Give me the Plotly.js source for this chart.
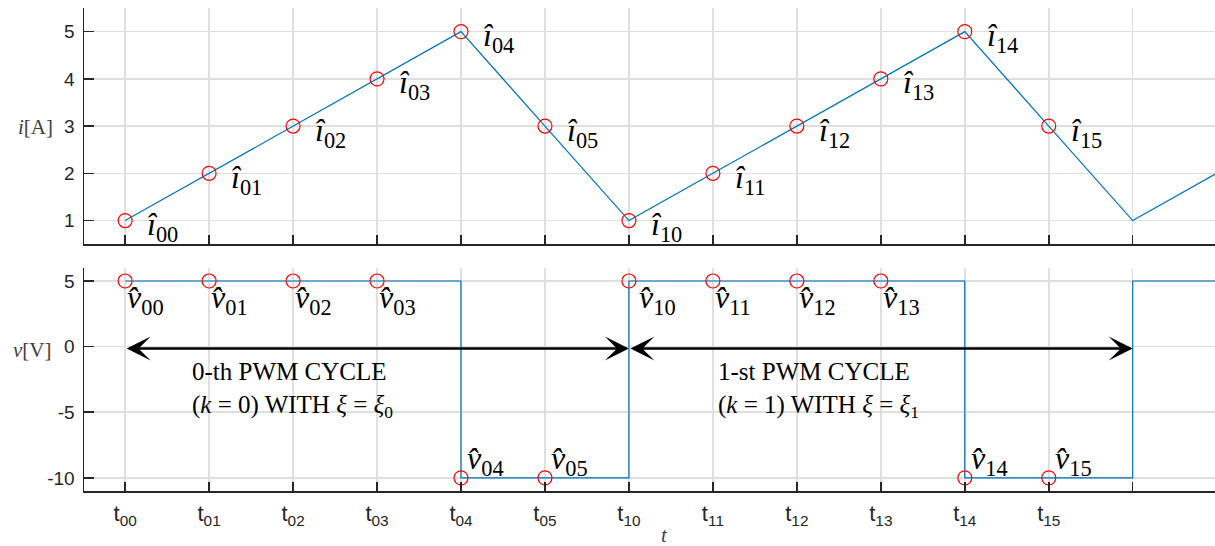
<!DOCTYPE html>
<html>
<head>
<meta charset="utf-8">
<script src="https://cdn.plot.ly/plotly-3.0.1.min.js"></script>
<style>
  html, body { margin: 0; padding: 0; background: #ffffff; }
  #chart { width: 1215px; height: 546px; }
</style>
</head>
<body>
<div id="chart"></div>
<script>
// Instants t_kn: two PWM cycles of six samples each, plus the start of the next cycle
const sampleNames = ['00', '01', '02', '03', '04', '05', '10', '11', '12', '13', '14', '15'];
const tickPositions = [0, 1, 2, 3, 4, 5, 6, 7, 8, 9, 10, 11, 12];
const tickLabels = ['t<sub>00</sub>', 't<sub>01</sub>', 't<sub>02</sub>', 't<sub>03</sub>',
                    't<sub>04</sub>', 't<sub>05</sub>', 't<sub>10</sub>', 't<sub>11</sub>',
                    't<sub>12</sub>', 't<sub>13</sub>', 't<sub>14</sub>', 't<sub>15</sub>', ''];
const currentTicks = [1, 2, 3, 4, 5];
const voltageTicks = [-10, -5, 0, 5];
const voltageTickLabels = ['-10', '-5', '0', '5'];

// Waveforms over the whole time span
const timeAxis = [0, 1, 2, 3, 4, 5, 6, 7, 8, 9, 10, 11, 12, 13];
const current = [1, 2, 3, 4, 5, 3, 1, 2, 3, 4, 5, 3, 1, 2];       // i [A]
const voltage = [5, 5, 5, 5, -10, -10, 5, 5, 5, 5, -10, -10, 5, 5]; // v [V]

// Sampled values (one per named instant)
const sampleTimes = timeAxis.slice(0, sampleNames.length);
const currentSamples = current.slice(0, sampleNames.length);
const voltageSamples = voltage.slice(0, sampleNames.length);

// PWM cycle spans
const cycleStart = [0, 6];
const cycleEnd = [6, 12];
const cycleTitles = ['0-th PWM CYCLE', '1-st PWM CYCLE'];
const cycleIndex = ['0', '1'];

const lineBlue = '#0072BD';
const axisInk = '#262626';
const gridGrey = '#dfdfdf';
const mathFont = 'Liberation Serif, Times New Roman, serif';
const sansFont = 'Liberation Sans, Arial, sans-serif';

const traces = [
  {x: timeAxis, y: current, mode: 'lines', xaxis: 'x', yaxis: 'y',
   line: {color: lineBlue, width: 1.2}, hoverinfo: 'skip'},
  {x: sampleTimes, y: currentSamples, mode: 'markers', xaxis: 'x', yaxis: 'y',
   marker: {symbol: 'circle-open', size: 14, color: '#ff0000', line: {width: 1.2, color: '#ff0000'}}},
  {x: timeAxis, y: voltage, mode: 'lines', xaxis: 'x2', yaxis: 'y2',
   line: {color: lineBlue, width: 1.2, shape: 'hv'}, hoverinfo: 'skip'},
  {x: sampleTimes, y: voltageSamples, mode: 'markers', xaxis: 'x2', yaxis: 'y2',
   marker: {symbol: 'circle-open', size: 14, color: '#ff0000', line: {width: 1.2, color: '#ff0000'}}}
];

const annotations = [];

// î labels, to the lower right of each current sample
sampleNames.forEach((name, k) => {
  annotations.push({
    xref: 'x', yref: 'y', x: sampleTimes[k], y: currentSamples[k],
    text: '<i>î</i><sub>' + name + '</sub>', showarrow: false,
    xanchor: 'left', yanchor: 'middle', xshift: 20, yshift: -6,
    font: {family: mathFont, size: 32, color: '#000000'}
  });
});

// v̂ labels: below the high level, above the low level
sampleNames.forEach((name, k) => {
  const high = voltageSamples[k] > 0;
  annotations.push({
    xref: 'x2', yref: 'y2', x: sampleTimes[k], y: voltageSamples[k],
    text: '<i>v̂</i><sub>' + name + '</sub>', showarrow: false,
    xanchor: 'left', yanchor: 'middle',
    xshift: high ? (k === 6 ? 8 : 0) : 4, yshift: high ? -19 : 17,
    font: {family: mathFont, size: 32, color: '#000000'}
  });
});

// Double-headed arrows spanning each PWM cycle, with their captions
const captionX = [0.77, 7.04];
cycleStart.forEach((s, c) => {
  annotations.push({
    xref: 'x2', yref: 'y2', axref: 'x2', ayref: 'y2',
    x: cycleEnd[c], y: -0.15, ax: s, ay: -0.15, text: '',
    showarrow: true, arrowside: 'end+start', arrowhead: 3, startarrowhead: 3,
    arrowsize: 1.6, startarrowsize: 1.6, arrowwidth: 2.5, arrowcolor: '#000000',
    standoff: 0, startstandoff: 0
  });
  annotations.push({
    xref: 'x2', yref: 'y2', x: captionX[c], y: -3.3,
    text: cycleTitles[c] + '<br>(<i>k</i> = ' + cycleIndex[c] + ') WITH <i>ξ</i> = <i>ξ</i><sub>' + cycleIndex[c] + '</sub>',
    showarrow: false, xanchor: 'left', yanchor: 'middle', align: 'left',
    font: {family: mathFont, size: 25, color: '#000000'}
  });
});

// Axis names
annotations.push(
  {xref: 'paper', yref: 'paper', x: -0.0433, y: 0.7536, text: '<i>i</i>[A]', showarrow: false,
   xanchor: 'center', yanchor: 'middle', font: {family: mathFont, size: 21, color: '#404040'}},
  {xref: 'paper', yref: 'paper', x: -0.046, y: 0.292, text: '<i>v</i>[V]', showarrow: false,
   xanchor: 'center', yanchor: 'middle', font: {family: mathFont, size: 21, color: '#404040'}},
  {xref: 'paper', yref: 'paper', x: 0.5137, y: -0.092, text: '<i>t</i>', showarrow: false,
   xanchor: 'center', yanchor: 'middle', font: {family: mathFont, size: 21, color: '#404040'}}
);

const axisCommon = {
  showline: true, linecolor: axisInk, linewidth: 1.5,
  ticks: 'inside', tickcolor: axisInk, tickwidth: 1.5,
  showgrid: true, gridcolor: gridGrey, gridwidth: 1.5,
  zeroline: false, fixedrange: true,
  tickfont: {family: sansFont, size: 19, color: axisInk}
};

const layout = {
  width: 1215, height: 546,
  margin: {l: 84, r: 0, t: 8, b: 55},
  paper_bgcolor: '#ffffff', plot_bgcolor: '#ffffff',
  showlegend: false,
  xaxis: Object.assign({}, axisCommon, {
    domain: [0, 1], anchor: 'y', range: [-0.49, 12.98],
    tickmode: 'array', tickvals: tickPositions, showticklabels: false, ticklen: 9
  }),
  yaxis: Object.assign({}, axisCommon, {
    domain: [0.511, 1], anchor: 'x', range: [0.5, 5.5],
    tickmode: 'array', tickvals: currentTicks, ticklen: 10, ticklabelstandoff: 4
  }),
  xaxis2: Object.assign({}, axisCommon, {
    domain: [0, 1], anchor: 'y2', range: [-0.49, 12.98],
    tickmode: 'array', tickvals: tickPositions, ticktext: tickLabels, ticklen: 9,
    ticklabelstandoff: 2, tickfont: {family: sansFont, size: 22, color: axisInk}
  }),
  yaxis2: Object.assign({}, axisCommon, {
    domain: [0, 0.462], anchor: 'x2', range: [-11, 6],
    tickmode: 'array', tickvals: voltageTicks, ticktext: voltageTickLabels,
    ticklen: 10, ticklabelstandoff: 4
  }),
  annotations: annotations
};

Plotly.newPlot('chart', traces, layout, {staticPlot: true, displayModeBar: false});
</script>
</body>
</html>
